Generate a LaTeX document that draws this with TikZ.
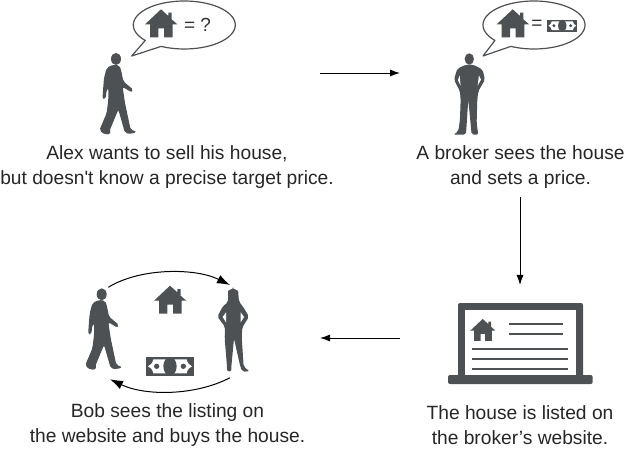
\documentclass[tikz,border=0pt]{standalone}
\usepackage{fontspec}
\setmainfont{Liberation Sans}
\usetikzlibrary{arrows.meta}
\definecolor{icongray}{HTML}{4D5154}
\tikzset{
    icon/.style={fill=icongray, draw=none},
    caption/.style={align=center, font=\fontsize{19.2}{25}\selectfont, text=black!85, inner sep=0pt},
    sign/.style={font=\fontsize{19}{19}\selectfont, text=black!80, inner sep=0pt},
    flow/.style={-{Latex[length=10pt,width=7pt]}, line width=0.9pt, black},
    swap/.style={-{Latex[length=13pt,width=9pt]}, line width=1pt, black},
    bubble/.style={draw=icongray, line width=1.2pt, fill=white, line join=round},
    pics/house/.style={code={
        \fill[icongray] (-48,45) -- (0,0) -- (22,20) -- (22,10) -- (32,10) -- (32,30) -- (49,45)
            -- (35,45) -- (35,84) -- (9,84) -- (9,57) -- (-8,57) -- (-8,84) -- (-33,84) -- (-33,45) -- cycle;
    }},
    pics/banknote/.style={code={
        \fill[icongray] (-72,-29) rectangle (72,29);
        \fill[white] (-50,-21) -- (50,-21) .. controls (52,-10) and (58,-3) .. (66,0)
            .. controls (58,3) and (52,10) .. (50,21) -- (-50,21)
            .. controls (-52,10) and (-58,3) .. (-66,0) .. controls (-58,-3) and (-52,-10) .. (-50,-21) -- cycle;
        \fill[icongray] (0,0) circle[x radius=20pt, y radius=28pt];
        \fill[icongray] (-40,0) circle[radius=8pt] (40,0) circle[radius=8pt];
    }},
    pics/walker/.style={code={
        \fill[icongray] (0,0) circle[x radius=15pt, y radius=18pt];
        \fill[icongray, rounded corners=2pt] (-10,17) -- (-28,27) -- (-36,57) -- (-40,107) -- (-40,120) -- (-31,120)
            -- (-28,92) -- (-23,87) -- (-23,122) -- (-28,162) -- (-50,214) -- (-33,227) -- (-16,224) -- (-20,217)
            -- (7,152) -- (27,222) -- (47,225) -- (62,218) -- (44,212) -- (27,132) -- (20,84) -- (47,100) -- (52,92)
            -- (22,67) -- (15,32) -- (10,19) -- cycle;
    }},
    pics/stander/.style={code={
        \fill[icongray] (0,0) circle[x radius=14pt, y radius=17pt];
        \fill[icongray, rounded corners=2pt] (-10,17) -- (-36,29) -- (-46,62) -- (-28,97) -- (-26,122) -- (-28,182)
            -- (-33,217) -- (-48,227) -- (-10,227) -- (-3,122) -- (7,227) -- (27,227) -- (22,192) -- (24,122)
            -- (27,97) -- (47,62) -- (40,32) -- (12,17) -- cycle;
        \fill[white] (-29,49) -- (-34,64) -- (-26,80) -- cycle (29,49) -- (35,62) -- (25,80) -- cycle;
    }},
    pics/woman/.style={code={
        \fill[icongray, rounded corners=2pt] (0,-17) .. controls (10,-17) and (16,-12) .. (16,-4) -- (18,20) -- (30,35)
            -- (48,65) -- (28,97) -- (26,125) -- (32,215) -- (50,229) -- (28,230) -- (22,215) -- (3,131)
            -- (-5,215) -- (-5,229) -- (-18,229) -- (-18,215) -- (-25,130) -- (-24,95) -- (-47,65) -- (-30,33)
            -- (-15,22) -- (-15,-5) .. controls (-15,-12) and (-10,-17) .. (0,-17) -- cycle;
        \fill[white] (-21,52) -- (-31,66) -- (-21,82) -- cycle (23,52) -- (33,66) -- (23,82) -- cycle;
    }}
}
\begin{document}
\begin{tikzpicture}[x=1pt,y=-1pt]
\useasboundingbox (0,0) rectangle (624,449);
% top left: Alex
\pic[scale=1/3] at (116,59) {walker};
\draw[bubble] plot[domain=140:477,samples=80,smooth] ({184.3+51*cos(\x)},{25+24*sin(\x)}) -- (131.7,56) -- cycle;
\pic[scale=1/3] at (161,9.3) {house};
\node[sign] (priceAsk) at (197.5,25) {= ?};
\node[caption] (alexText) at (167,167) {Alex wants to sell his house,\\but doesn\textquotesingle t know a precise target price.};
% top right: broker
\pic[scale=1/3] at (469.3,59) {stander};
\draw[bubble] plot[domain=140:477,samples=80,smooth] ({534+51*cos(\x)},{25+24*sin(\x)}) -- (483,56) -- cycle;
\pic[scale=1/3] at (512.7,9.3) {house};
\node[sign] (priceEq) at (537,25) {=};
\pic[scale=0.21] at (562.3,25.7) {banknote};
\node[caption] (brokerText) at (520.5,167) {A broker sees the house\\and sets a price.};
% bottom right: laptop
\fill[icongray, rounded corners=2pt] (458,303) rectangle (583,378);
\fill[white] (465,310) rectangle (576,378);
\fill[icongray, rounded corners=2pt] (448,375) rectangle (592.7,384);
\pic[scale=0.26] at (482.7,319) {house};
\foreach \ya/\xa/\xb in {324/509/562.7, 334/509/562.7, 349/472/568, 359/472/568, 369/472/568} {
    \draw[icongray, line width=1.2pt] (\xa,\ya) -- (\xb,\ya);
}
\node[caption] (laptopText) at (520,425.5) {The house is listed on\\the broker’s website.};
% bottom left: the sale
\pic[scale=1/3] at (101.7,294.3) {walker};
\pic[scale=1/3] at (233,295) {woman};
\pic[scale=1/3] at (170,285.7) {house};
\pic[scale=1/3] at (170,366.3) {banknote};
\node[caption] (saleText) at (167.5,425.5) {Bob sees the listing on\\the website and buys the house.};
% arrows
\coordinate (flowAa) at (320,73);
\coordinate (flowAb) at (400,73);
\coordinate (flowBa) at (520,197);
\coordinate (flowBb) at (520,285);
\coordinate (flowCa) at (400,338);
\coordinate (flowCb) at (320,338);
\coordinate (swapAa) at (108.3,287.3);
\coordinate (swapAb) at (230,285);
\coordinate (swapBa) at (230,377.7);
\coordinate (swapBb) at (110,379.3);
\draw[flow] (flowAa) -- (flowAb);
\draw[flow] (flowBa) -- (flowBb);
\draw[flow] (flowCa) -- (flowCb);
\draw[swap] (swapAa) .. controls (140,267.7) and (195,267.7) .. (swapAb);
\draw[swap] (swapBa) .. controls (195,396) and (145,396) .. (swapBb);
\end{tikzpicture}
\end{document}
